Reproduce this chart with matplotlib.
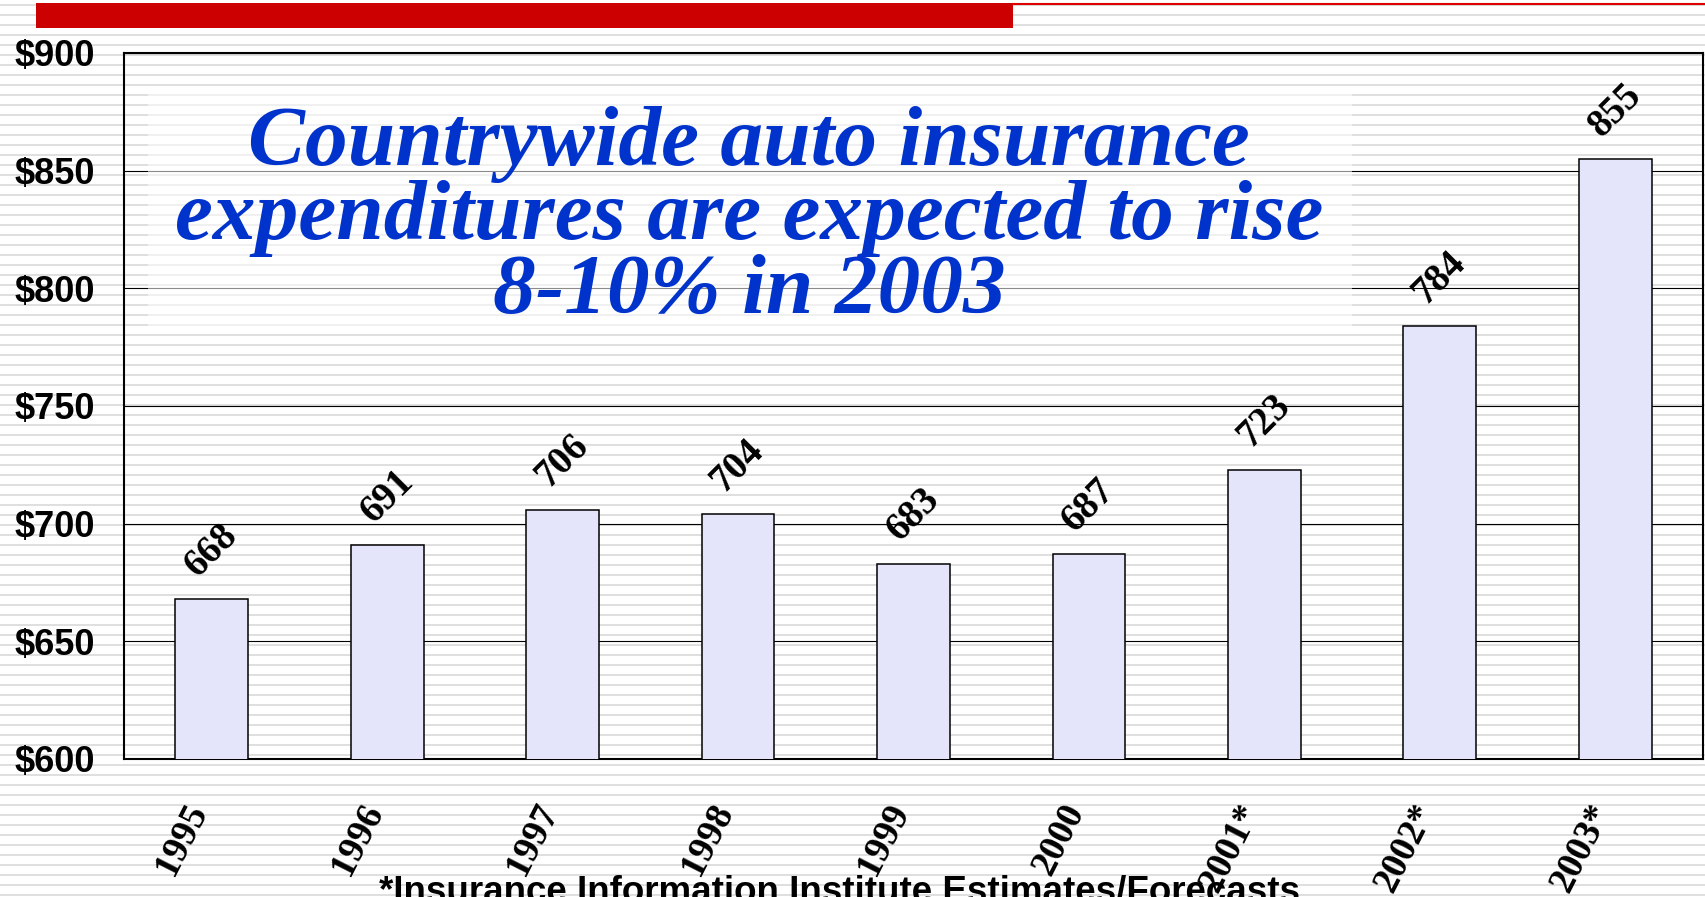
import numpy as np
import matplotlib
matplotlib.use("Agg")
from matplotlib import pyplot as plt
from matplotlib.patches import Rectangle
from matplotlib.transforms import ScaledTranslation

# Average auto insurance expenditures, countrywide
years = ['1995', '1996', '1997', '1998', '1999', '2000', '2001*', '2002*', '2003*']
spend = [668, 691, 706, 704, 683, 687, 723, 784, 855]
yticks = [600, 650, 700, 750, 800, 850, 900]
title_lines = ['Countrywide auto insurance',
               'expenditures are expected to rise',
               '8-10% in 2003']
footnote = '*Insurance Information Institute Estimates/Forecasts'

W, H, DPI = 1706, 897, 100
fig = plt.figure(figsize=(W / DPI, H / DPI), dpi=DPI)
fig.patch.set_facecolor('white')

# striped slide background
bg = fig.add_axes([0, 0, 1, 1], zorder=-5)
bg.set_xlim(0, W)
bg.set_ylim(H, 0)
bg.axis('off')
for yy in np.arange(5, H, 10):
    bg.axhline(yy, color='#dcdcdc', lw=1.3, zorder=1)
bg.add_patch(Rectangle((36, 3), 977, 25, color='#cc0000', lw=0, zorder=3))
bg.plot([1013, W], [4, 4], color='#dd0000', lw=1.5, zorder=3)

ax = fig.add_axes([124 / W, 1 - 759 / H, 1579 / W, 706 / H])
ax.patch.set_alpha(0)
x = np.arange(len(years))
bars = ax.bar(x, spend, width=0.415, bottom=0, color='#e4e4fa',
              edgecolor='black', linewidth=1.1, zorder=3)
ax.set_xlim(-0.5, len(years) - 0.5)
ax.set_ylim(600, 900)
ax.set_yticks(yticks)
ax.set_yticklabels(['$%d' % v for v in yticks], fontfamily='Liberation Sans',
                   fontweight='bold', fontsize=26)
ax.yaxis.grid(True, color='black', lw=0.8, zorder=0)
ax.set_axisbelow(True)
ax.tick_params(axis='y', length=0, pad=21)
ax.set_xticks(x)
ax.set_xticklabels(years, fontfamily='Liberation Serif', fontweight='bold',
                   fontsize=27, rotation=63, rotation_mode='anchor',
                   ha='right', va='center')
ax.tick_params(axis='x', length=0, pad=34)
shift = ScaledTranslation(-0.13, 0, fig.dpi_scale_trans)
for lbl in ax.get_xticklabels():
    lbl.set_transform(lbl.get_transform() + shift)
for s in ax.spines.values():
    s.set_linewidth(1.5)

for xi, v in zip(x, spend):
    ax.annotate('%d' % v, (xi, v), xytext=(0, 35), textcoords='offset points',
                ha='center', va='center', rotation=45,
                fontfamily='Liberation Serif', fontweight='bold', fontsize=28)

# headline panel
ax.add_patch(Rectangle((-0.363, 781.4), 6.863, 101.6, facecolor='white',
                       alpha=0.55, lw=0, zorder=1))
for line, yb in zip(title_lines, [165, 239, 313]):
    fig.text(749 / W, 1 - yb / H, line, ha='center', va='baseline',
             fontfamily='Liberation Serif', fontweight='bold',
             fontstyle='italic', fontsize=61.5, color='#0033cc')

fig.text(840 / W, 1 - 901 / H, footnote, ha='center', va='baseline',
         fontfamily='Liberation Sans', fontweight='bold', fontsize=26.5)

fig.savefig('out.png', dpi=DPI)
